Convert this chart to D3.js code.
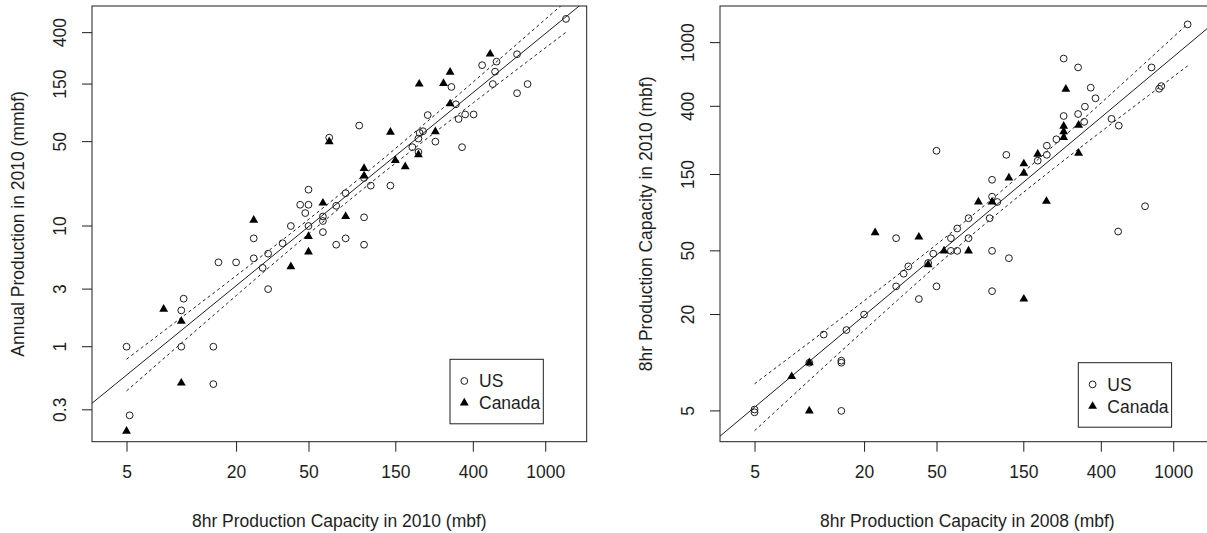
<!DOCTYPE html>
<html>
<head>
<script src="https://d3js.org/d3.v7.min.js"></script>
<style>
  body { margin: 0; background: white; }
  text { font-family: "Liberation Sans", Arial, sans-serif; fill: #1e1e1e; }
</style>
</head>
<body>
<svg id="chart" width="1207" height="533"></svg>
<script>
// ---- left panel: 8hr capacity 2010 (x) vs annual production 2010 (y)
const usCapA = [1300,700,540,450,530,515,800,700,305,323,334,363,404,226,349,249,204,213,201,186,
                201,95,65,101,110,141,80,50,45,50,71,48,60,60,101,40,50,60,36,71,
                80,101,5,5.2,10,10.3,10,15,15,16,20,25,25,30,28,30];
const usProdA = [520,265,230,215,190,150,150,126,142,102,77,84,84,83,45,50,59,61,53,45,
                 41,68,54,25,21.6,21.6,18.7,20,15,15,14.7,12.8,12,11,11.8,10,10,8.9,7.2,7,
                 7.9,7,1,0.27,2,2.5,1,1,0.49,5,5,5.4,7.9,5.9,4.5,3];
const caCapA = [8,10,10,5,25,40,50,50,60,80,65,101,101,150,170,141,249,201,203,276,300,300,498];
const caProdA = [2.05,1.63,0.5,0.2,11.2,4.6,6.1,8.2,15.5,12,50,30,26,35,31,60,60.5,39,150,152,188,103,266];

// ---- right panel: 8hr capacity 2008 (x) vs 8hr capacity 2010 (y)
const usCap08 = [1200,760,836,860,250,300,352,374,327,300,324,250,458,502,228,202,202,180,121,50,
                 101,101,108,98,75,65,60,75,700,498,30,60,65,48,35,33,45,50,40,101,
                 125,101,5,5,10,15,15,15,12,16,20,30];
const usCap10 = [1300,700,515,535,795,700,523,449,398,358,320,348,334,303,249,227,199,183,199,211,
                 139,109,101,80,80,69,60,60,95,66,60,50,50,48,40,36,42,30,25,50,
                 45,28,5.1,4.9,10,10,10.3,5,15,16,20,30];
const caCap08 = [257,302,250,250,250,302,180,151,151,125,85,101,201,40,23,55,75,45,151,8,10,10];
const caCap10 = [512,305,301,278,256,204,201,175,153,143,101,101,102,61,65,50,50,41,25,8.2,10,5];

const capTicks = [5, 20, 50, 150, 400, 1000];
const prodTicks = [0.3, 1, 3, 10, 50, 150, 400];
const legendLabels = ["US", "Canada"];

const svg = d3.select("#chart");
const W = 494.7, H = 435.7, boxTop = 6;
const ink = "#1e1e1e";
const fs = "17.5px";

function panel(left, cfg) {
  const x = d3.scaleLog().domain([3.23, 1690]).range([left, left + W]);
  const y = d3.scaleLog().domain(cfg.yDomain).range([boxTop + H, boxTop]);
  const g = svg.append("g");
  const clipId = "clip" + cfg.id;
  g.append("clipPath").attr("id", clipId).append("rect")
    .attr("x", left).attr("y", boxTop).attr("width", W).attr("height", H);

  // x axis
  const xa = g.append("g").attr("transform", `translate(0,${boxTop + H})`)
    .call(d3.axisBottom(x).tickValues(capTicks).tickFormat(d3.format("d")).tickSize(10).tickPadding(14));
  xa.select(".domain").remove();
  xa.selectAll("line").attr("stroke", ink);
  xa.selectAll("text").style("font-size", fs).attr("fill", ink);

  // y axis (labels parallel to axis, R style)
  const ya = g.append("g").attr("transform", `translate(${left},0)`)
    .call(d3.axisLeft(y).tickValues(cfg.yTicks).tickFormat(d => String(d)).tickSize(10));
  ya.select(".domain").remove();
  ya.selectAll("line").attr("stroke", ink);
  ya.selectAll(".tick").attr("transform", null);
  ya.selectAll(".tick line").attr("y1", d => y(d)).attr("y2", d => y(d));
  ya.selectAll("text").style("font-size", fs).attr("fill", ink)
    .attr("text-anchor", "middle").attr("dy", 0)
    .attr("transform", "rotate(-90)")
    .attr("x", d => -y(d)).attr("y", -26);

  // axis titles
  g.append("text").attr("x", left + W / 2).attr("y", 527)
    .attr("text-anchor", "middle").style("font-size", fs).text(cfg.xTitle);
  g.append("text").attr("transform", `translate(${left - 68},${boxTop + H / 2}) rotate(-90)`)
    .attr("text-anchor", "middle").style("font-size", fs).text(cfg.yTitle);

  // least squares fit on log10 scale, pooled over both groups
  const xs = cfg.usX.concat(cfg.caX).map(Math.log10);
  const ys = cfg.usY.concat(cfg.caY).map(Math.log10);
  const n = xs.length, mx = d3.mean(xs), my = d3.mean(ys);
  const sxx = d3.sum(xs, v => (v - mx) ** 2);
  const sxy = d3.sum(xs, (v, i) => (v - mx) * (ys[i] - my));
  const b = sxy / sxx, a = my - b * mx;
  const s = Math.sqrt(d3.sum(xs, (v, i) => (ys[i] - a - b * v) ** 2) / (n - 2));
  const tq = 1.99;

  const plot = g.append("g").attr("clip-path", `url(#${clipId})`);
  const lx = x.domain().map(Math.log10);
  plot.append("line")
    .attr("x1", x(10 ** lx[0])).attr("y1", y(10 ** (a + b * lx[0])))
    .attr("x2", x(10 ** lx[1])).attr("y2", y(10 ** (a + b * lx[1])))
    .attr("stroke", ink).attr("stroke-width", 1);

  const xmin = d3.min(xs), xmax = d3.max(xs);
  const grid = d3.range(0, 101).map(i => xmin + (xmax - xmin) * i / 100);
  [1, -1].forEach(sign => {
    const band = d3.line()
      .x(v => x(10 ** v))
      .y(v => y(10 ** (a + b * v + sign * tq * s * Math.sqrt(1 / n + (v - mx) ** 2 / sxx))));
    plot.append("path").attr("d", band(grid)).attr("fill", "none")
      .attr("stroke", ink).attr("stroke-width", 1).attr("stroke-dasharray", "3,3");
  });

  // points
  plot.selectAll("circle.us").data(d3.zip(cfg.usX, cfg.usY)).join("circle")
    .attr("class", "us").attr("cx", d => x(d[0])).attr("cy", d => y(d[1])).attr("r", 3.4)
    .attr("fill", "none").attr("stroke", ink).attr("stroke-width", 1);
  const tri = d3.symbol(d3.symbolTriangle).size(34);
  plot.selectAll("path.ca").data(d3.zip(cfg.caX, cfg.caY)).join("path")
    .attr("class", "ca").attr("d", tri)
    .attr("transform", d => `translate(${x(d[0])},${y(d[1])})`).attr("fill", "#000");

  // box
  g.append("rect").attr("x", left).attr("y", boxTop).attr("width", W).attr("height", H)
    .attr("fill", "none").attr("stroke", ink).attr("stroke-width", 1);

  // legend
  const lg = g.append("g").attr("transform", `translate(${cfg.legend[0]},${cfg.legend[1]})`);
  lg.append("rect").attr("width", 93.3).attr("height", 64.5)
    .attr("fill", "white").attr("stroke", ink).attr("stroke-width", 1);
  lg.append("circle").attr("cx", 14.3).attr("cy", 21.7).attr("r", 3.4)
    .attr("fill", "none").attr("stroke", ink);
  lg.append("path").attr("d", tri).attr("transform", "translate(14.3,43.6)").attr("fill", "#000");
  lg.selectAll("text").data(legendLabels).join("text")
    .attr("x", 29).attr("y", (d, i) => 21.7 + i * 21.9).attr("dy", "0.36em")
    .style("font-size", fs).text(d => d);
}

panel(92, {
  id: "A", yDomain: [0.1633, 665], yTicks: prodTicks,
  xTitle: "8hr Production Capacity in 2010 (mbf)",
  yTitle: "Annual Production in 2010 (mmbf)",
  usX: usCapA, usY: usProdA, caX: caCapA, caY: caProdA,
  legend: [450, 359.3]
});
panel(720, {
  id: "B", yDomain: [3.21, 1694], yTicks: capTicks,
  xTitle: "8hr Production Capacity in 2008 (mbf)",
  yTitle: "8hr Production Capacity in 2010 (mbf)",
  usX: usCap08, usY: usCap10, caX: caCap08, caY: caCap10,
  legend: [1078.3, 362.7]
});
</script>
</body>
</html>
